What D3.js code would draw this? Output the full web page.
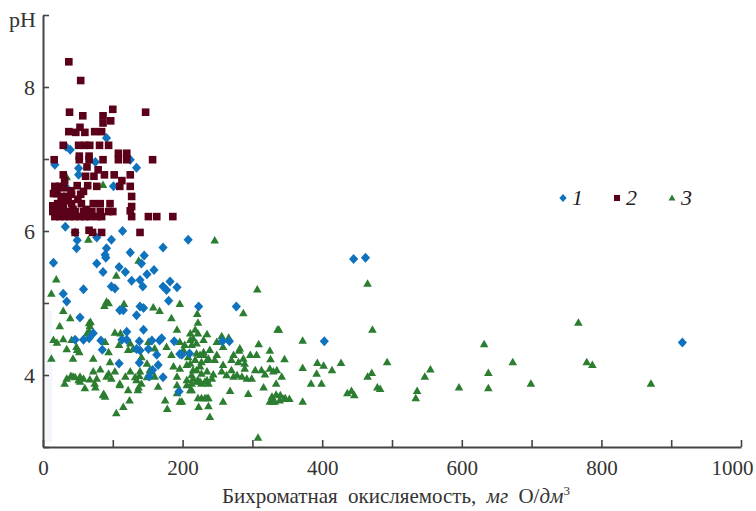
<!DOCTYPE html>
<html><head><meta charset="utf-8">
<script src="https://cdn.jsdelivr.net/npm/d3@7"></script>
<style>body{margin:0;background:#fff}svg{display:block}</style>
</head><body>
<script>
// ---- data ----
const xTicks = [0,100,200,300,400,500,600,700,800,900,1000];
const xTickLabels = ["0","","200","","400","","600","","800","","1000"];
const yTicks = [3,4,5,6,7,8,9];
const yTickLabels = ["","4","","6","","8",""];
const legendLabels = ["1","2","3"];

const series1 = [[91,7.29],[39,7.13],[33,7.17],[75,6.96],[134,6.88],[125,6.99],[17,6.92],[51,6.87],[51,6.78],[101,6.62],[32,6.62],[32,6.06],[114,6.0],[46,5.98],[77,5.91],[98,5.88],[49,5.87],[48,5.76],[91,5.76],[89,5.67],[90,5.63],[125,5.7],[145,5.66],[141,5.55],[109,5.5],[118,5.43],[86,5.43],[77,5.55],[15,5.56],[172,5.77],[208,5.88],[159,5.46],[149,5.4],[127,5.31],[139,5.32],[143,5.23],[98,5.23],[103,5.2],[58,5.19],[172,5.23],[177,5.18],[182,5.3],[192,5.22],[29,5.13],[34,5.02],[180,5.03],[139,4.95],[144,4.93],[223,4.95],[277,4.95],[110,4.9],[115,4.9],[134,4.83],[53,4.8],[120,4.6],[144,4.63],[72,4.58],[46,4.49],[58,4.49],[66,4.51],[83,4.48],[113,4.49],[120,4.49],[138,4.47],[156,4.48],[167,4.48],[170,4.51],[188,4.47],[85,4.35],[134,4.36],[139,4.34],[151,4.36],[163,4.28],[196,4.29],[210,4.3],[109,4.16],[138,4.17],[165,4.14],[157,4.07],[152,3.98],[172,3.97],[195,3.77],[445,5.61],[462,5.63],[257,4.47],[267,4.47],[403,4.47],[199,4.28],[916,4.45]];

const series2 = [[37,8.35],[54,8.09],[38,7.65],[57,7.6],[86,7.6],[100,7.69],[147,7.65],[86,7.5],[97,7.53],[53,7.44],[37,7.38],[47,7.37],[60,7.37],[74,7.38],[84,7.38],[29,7.19],[51,7.19],[60,7.19],[67,7.19],[81,7.19],[94,7.19],[16,6.99],[52,7.04],[66,7.04],[52,6.99],[66,6.99],[86,6.99],[108,7.08],[120,7.08],[108,6.99],[120,6.99],[157,6.99],[63,6.89],[79,6.85],[29,6.78],[61,6.76],[73,6.76],[88,6.78],[102,6.78],[125,6.78],[113,6.7],[31,6.7],[17,6.62],[24,6.62],[49,6.63],[64,6.63],[77,6.62],[110,6.62],[125,6.62],[15,6.52],[20,6.52],[41,6.51],[54,6.51],[27,6.48],[34,6.48],[127,6.48],[18,6.58],[40,6.56],[58,6.55],[30,6.6],[21,6.38],[29,6.38],[41,6.38],[55,6.38],[72,6.38],[82,6.38],[96,6.38],[14,6.35],[26,6.45],[36,6.42],[50,6.44],[127,6.34],[19,6.3],[29,6.3],[43,6.3],[62,6.3],[125,6.28],[14,6.27],[22,6.27],[34,6.27],[46,6.27],[58,6.27],[70,6.27],[82,6.27],[94,6.27],[100,6.27],[17,6.2],[24,6.2],[31,6.2],[38,6.2],[45,6.2],[53,6.2],[60,6.2],[67,6.2],[77,6.2],[84,6.2],[127,6.2],[151,6.2],[163,6.2],[186,6.2],[46,5.98],[66,6.01],[71,5.98],[84,5.98],[139,5.98]];

const series3 = [[65,5.88],[19,5.33],[12,5.13],[105,5.38],[137,5.59],[34,6.75],[86,6.64],[246,5.87],[307,5.19],[287,4.86],[465,5.27],[336,4.63],[338,4.63],[472,4.63],[372,4.48],[309,4.43],[325,4.34],[297,4.28],[306,4.28],[346,4.22],[326,4.22],[372,4.1],[393,4.17],[402,4.13],[427,4.17],[414,4.07],[392,4.02],[384,3.88],[399,3.88],[493,4.18],[471,4.03],[465,3.98],[479,3.83],[436,3.75],[442,3.78],[446,3.72],[372,3.63],[353,3.67],[345,3.67],[334,3.73],[339,3.65],[325,3.63],[332,3.63],[342,3.98],[316,3.83],[294,3.74],[268,3.78],[258,3.63],[239,3.42],[237,3.57],[222,3.68],[237,3.68],[308,3.13],[196,3.63],[767,4.73],[632,4.43],[673,4.18],[779,4.18],[787,4.14],[555,4.08],[547,3.98],[536,3.78],[534,3.68],[596,3.83],[638,3.82],[699,3.88],[871,3.88],[638,4.03],[483,3.81],[29,4.89],[91,5.02],[94,5.0],[88,4.96],[116,4.99],[158,4.94],[167,4.89],[196,4.99],[221,4.85],[184,4.79],[39,4.79],[68,4.74],[24,4.68],[67,4.68],[192,4.63],[222,4.73],[103,4.59],[222,4.58],[15,4.49],[29,4.5],[20,4.45],[41,4.49],[34,4.36],[48,4.39],[52,4.32],[43,4.23],[12,4.23],[89,4.46],[94,4.32],[72,4.23],[96,4.18],[125,4.44],[129,4.36],[151,4.46],[141,4.25],[149,4.16],[160,4.37],[177,4.39],[184,4.28],[196,4.46],[203,4.42],[211,4.49],[220,4.44],[230,4.49],[201,4.35],[208,4.25],[220,4.3],[230,4.28],[235,4.21],[187,4.12],[196,4.09],[206,4.14],[215,4.07],[225,4.12],[235,4.05],[192,3.98],[206,3.93],[215,3.95],[225,3.91],[235,3.93],[34,3.95],[43,3.98],[51,3.93],[58,3.95],[67,3.94],[72,4.05],[82,4.08],[91,3.98],[98,3.95],[103,4.05],[60,3.82],[75,3.83],[86,3.72],[89,3.7],[110,3.88],[118,3.98],[125,4.05],[138,3.99],[141,3.88],[153,4.07],[160,3.98],[165,3.84],[122,3.79],[124,3.65],[115,3.56],[105,3.47],[192,3.86],[192,3.75],[206,3.86],[213,3.79],[175,3.65],[178,3.53],[227,3.68],[235,3.68],[137,3.83],[134,3.93],[218,4.63],[211,4.58],[235,4.57],[256,4.54],[266,4.52],[215,4.51],[213,4.42],[249,4.46],[258,4.39],[239,4.35],[230,4.32],[282,4.37],[281,4.34],[225,4.28],[218,4.21],[211,4.16],[227,4.18],[237,4.23],[246,4.21],[249,4.28],[273,4.28],[270,4.21],[280,4.18],[289,4.16],[287,4.23],[304,4.07],[313,4.07],[318,4.01],[325,4.09],[330,4.05],[335,4.07],[258,4.14],[256,4.05],[263,4.0],[270,4.07],[273,3.98],[278,4.0],[289,4.09],[285,3.98],[292,3.95],[299,3.95],[220,4.07],[227,4.02],[244,4.01],[213,4.0],[222,3.93],[232,3.91],[242,3.95],[334,3.88],[328,3.7],[329,3.63],[340,3.72],[347,3.68],[232,3.68],[211,3.79],[213,3.88],[220,3.91],[227,3.88],[237,3.88],[66,4.72],[63,4.58],[66,4.61],[111,4.58],[109,4.42],[122,4.35],[49,4.35],[40,3.99],[46,3.97],[53,3.98],[77,3.95],[94,4.02],[132,3.97],[139,4.05],[149,3.97],[156,4.05],[31,3.88],[53,3.91],[74,3.88],[87,3.74],[110,3.86],[136,3.79],[199,3.63],[223,3.56]];

// ---- drawing ----
const W = 756, H = 511;
const svg = d3.select("body").append("svg").attr("width", W).attr("height", H);
const x = d3.scaleLinear().domain([0,1000]).range([43,741]);
const y = d3.scaleLinear().domain([3,9]).range([447,15]);
const FONT = "'Liberation Serif','Times New Roman',serif";
const AX = "#444";

const c1 = "#0f72bd", c2 = "#5b0019", c3 = "#2b7d30";

// faint scan artifact strip near y axis
svg.append("rect").attr("x", x(3)).attr("y", y(4.9)).attr("width", 7).attr("height", y(3.07)-y(4.9))
  .attr("fill", "#eef4fa").attr("opacity", 0.7);

const diamond = "M0,-5L4.6,0L0,5L-4.6,0Z";
const square = "M-3.8,-3.8H3.8V3.8H-3.8Z";
const tri = "M0,-4.3L4.3,3.2L-4.3,3.2Z";

function plot(data, path, color){
  svg.append("g").selectAll("path").data(data).join("path")
    .attr("d", path).attr("fill", color)
    .attr("transform", d => `translate(${x(d[0])},${y(d[1])})`);
}
plot(series3, tri, c3);
plot(series1, diamond, c1);
plot(series2, square, c2);

// x axis
const xAxis = d3.axisBottom(x).tickValues(xTicks).tickSize(-7).tickSizeOuter(0).tickPadding(13)
  .tickFormat((d,i) => xTickLabels[i]);
const gx = svg.append("g").attr("transform", `translate(0,${y(3)})`).call(xAxis);
gx.select(".domain").attr("stroke", AX).attr("stroke-width", 2);
gx.selectAll(".tick line").attr("stroke", AX).attr("stroke-width", 1.6);
gx.selectAll("text").attr("font-family", FONT).attr("font-size", 21).attr("fill", "#333");
gx.selectAll(".tick text").filter(d => d === 1000).attr("dx", -9);

// y axis
const yAxis = d3.axisLeft(y).tickValues(yTicks).tickSize(-6).tickSizeOuter(0).tickPadding(8)
  .tickFormat((d,i) => yTickLabels[i]);
const gy = svg.append("g").attr("transform", `translate(${x(0)},0)`).call(yAxis);
gy.select(".domain").attr("stroke", AX).attr("stroke-width", 2);
gy.selectAll(".tick line").attr("stroke", AX).attr("stroke-width", 1.6);
gy.selectAll("text").attr("font-family", FONT).attr("font-size", 22).attr("fill", "#333");

svg.append("text").attr("x", 36).attr("y", y(9)+12).attr("text-anchor", "end")
  .attr("font-family", FONT).attr("font-size", 22).attr("fill", "#333").text("pH");

// axis title
const t = svg.append("text").attr("x", 396).attr("y", 503).attr("text-anchor", "middle")
  .attr("font-family", FONT).attr("font-size", 21).attr("fill", "#333").attr("word-spacing", 5);
t.append("tspan").text("Бихроматная окисляемость, ");
t.append("tspan").attr("font-style", "italic").text("мг");
t.append("tspan").text(" O/");
t.append("tspan").attr("font-style", "italic").text("дм");
t.append("tspan").attr("font-size", 13).attr("dy", -8).text("3");

// legend
const legY = 198;
const legItems = [[diamond, c1, 563, 572],[square, c2, 617, 626],[tri, c3, 672, 681]];
legItems.forEach((it,i) => {
  svg.append("path").attr("d", it[0]).attr("fill", it[1])
    .attr("transform", `translate(${it[2]},${legY}) scale(0.8)`);
  svg.append("text").attr("x", it[3]).attr("y", legY+7).attr("font-family", FONT)
    .attr("font-style", "italic").attr("font-size", 22).attr("fill", "#222").text(legendLabels[i]);
});
</script>
</body></html>
